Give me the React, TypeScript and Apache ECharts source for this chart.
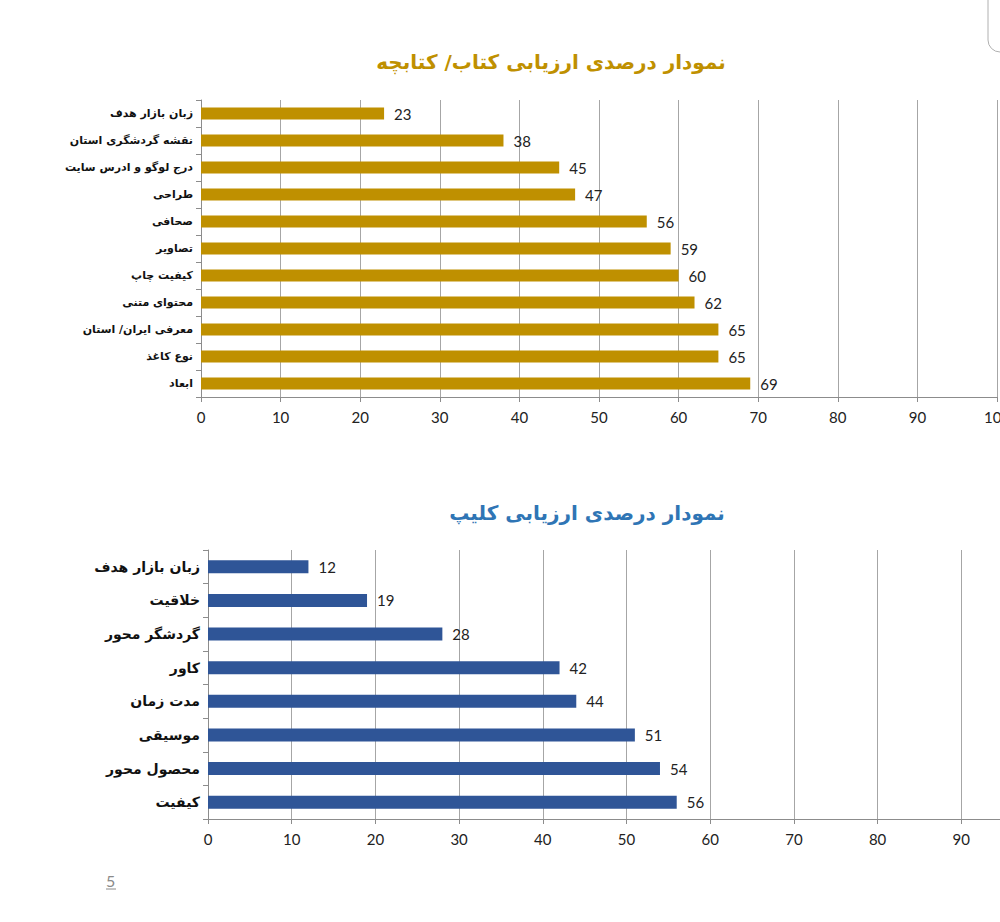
import React, { useEffect, useRef } from "react";
import * as echarts from "echarts";

const bookCategories = [
  "زبان بازار هدف",
  "نقشه گردشگری استان",
  "درج لوگو و ادرس سایت",
  "طراحی",
  "صحافی",
  "تصاویر",
  "کیفیت چاپ",
  "محتوای متنی",
  "معرفی ایران/ استان",
  "نوع کاغذ",
  "ابعاد",
];
const bookValues = [23, 38, 45, 47, 56, 59, 60, 62, 65, 65, 69];

const clipCategories = [
  "زبان بازار هدف",
  "خلاقیت",
  "گردشگر محور",
  "کاور",
  "مدت زمان",
  "موسیقی",
  "محصول محور",
  "کیفیت",
];
const clipValues = [12, 19, 28, 42, 44, 51, 54, 56];

const bookTitle = "نمودار درصدی ارزیابی کتاب/ کتابچه";
const clipTitle = "نمودار درصدی ارزیابی کلیپ";
const pageNumber = "5";

const numFont = "Lato, 'Open Sans', sans-serif";
const faFont = "'DejaVu Sans', Arial, sans-serif";

export default function App() {
  const ref = useRef<HTMLDivElement>(null);
  useEffect(() => {
    if (!ref.current) return;
    const chart = echarts.init(ref.current, undefined, { renderer: "svg" });
    const xAxisBase = {
      type: "value" as const,
      min: 0,
      max: 100,
      interval: 10,
      axisLine: { show: true, lineStyle: { color: "#8c8c8c", width: 1 } },
      axisTick: { show: true, length: 5, lineStyle: { color: "#8c8c8c" } },
      splitLine: { show: true, lineStyle: { color: "#a6a6a6", width: 1 } },
      axisLabel: { color: "#222", fontSize: 15, fontFamily: numFont, margin: 12 },
    };
    chart.setOption({
      animation: false,
      backgroundColor: "#ffffff",
      title: [
        {
          text: bookTitle,
          left: 546,
          top: 47,
          textAlign: "center",
          textStyle: { color: "#BF9000", fontSize: 20, fontWeight: "bold", fontFamily: faFont },
        },
        {
          text: clipTitle,
          left: 582,
          top: 498,
          textAlign: "center",
          textStyle: { color: "#2F75B5", fontSize: 20, fontWeight: "bold", fontFamily: faFont },
        },
      ],
      grid: [
        { left: 201, top: 100, width: 796, height: 297, containLabel: false, outerBoundsMode: "none" },
        { left: 208, top: 550, width: 837, height: 269, containLabel: false, outerBoundsMode: "none" },
      ],
      xAxis: [
        { ...xAxisBase, gridIndex: 0 },
        {
          ...xAxisBase,
          gridIndex: 1,
          axisLabel: { ...xAxisBase.axisLabel, showMaxLabel: false },
        },
      ],
      yAxis: [
        {
          type: "category",
          gridIndex: 0,
          data: bookCategories,
          inverse: true,
          axisLine: { show: true, lineStyle: { color: "#8c8c8c" } },
          axisTick: { show: true, length: 5, lineStyle: { color: "#8c8c8c" } },
          axisLabel: { color: "#111", fontSize: 11, fontWeight: "bold", fontFamily: faFont, margin: 8 },
        },
        {
          type: "category",
          gridIndex: 1,
          data: clipCategories,
          inverse: true,
          axisLine: { show: true, lineStyle: { color: "#8c8c8c" } },
          axisTick: { show: true, length: 5, lineStyle: { color: "#8c8c8c" } },
          axisLabel: { color: "#111", fontSize: 14, fontWeight: "bold", fontFamily: faFont, margin: 8 },
        },
      ],
      series: [
        {
          type: "bar",
          xAxisIndex: 0,
          yAxisIndex: 0,
          data: bookValues,
          barWidth: 12,
          itemStyle: { color: "#BF9000" },
          label: { show: true, position: "right", distance: 10, color: "#222", fontSize: 15, fontFamily: numFont },
        },
        {
          type: "bar",
          xAxisIndex: 1,
          yAxisIndex: 1,
          data: clipValues,
          barWidth: 13,
          itemStyle: { color: "#2F5597" },
          label: { show: true, position: "right", distance: 10, color: "#222", fontSize: 15, fontFamily: numFont },
        },
      ],
      graphic: [
        {
          type: "rect",
          shape: { x: 988, y: -30, width: 60, height: 82, r: 12 },
          style: { fill: "none", stroke: "#b0b0b0", lineWidth: 1 },
        },
        {
          type: "text",
          x: 106,
          y: 872,
          style: { text: pageNumber, fill: "#8a8a8a", fontSize: 16, fontFamily: numFont },
        },
        {
          type: "line",
          shape: { x1: 106, y1: 889, x2: 116, y2: 889 },
          style: { stroke: "#8a8a8a", lineWidth: 1 },
        },
      ],
    });
    return () => chart.dispose();
  }, []);
  return (
    <div
      ref={ref}
      style={{ position: "absolute", left: 0, top: 0, width: 1000, height: 922 }}
    />
  );
}
